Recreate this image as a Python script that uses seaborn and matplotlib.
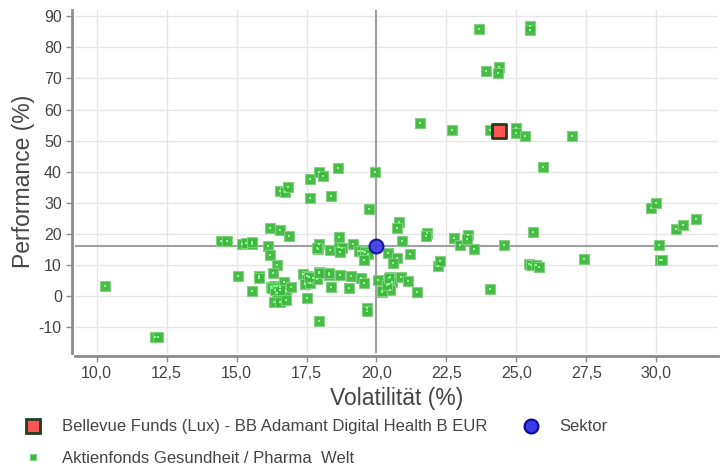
import numpy as np
import pandas as pd
import matplotlib
matplotlib.use("Agg")
import matplotlib.pyplot as plt
import seaborn as sns
from matplotlib.ticker import FuncFormatter
from matplotlib.lines import Line2D

# Peer group: volatility (%) and performance (%)
peer_vol = [10.3, 12.1, 12.2, 14.45, 14.65,
            15.2, 15.35, 15.55, 15.55, 15.05, 15.55, 15.8, 15.82,
            16.2, 16.57, 16.87, 16.12, 16.18, 16.45, 16.32, 16.55, 16.72, 16.84,
            16.24, 16.33, 16.45, 16.55, 16.71, 16.75, 16.95, 16.45, 16.35, 16.55, 16.75, 16.28, 16.39, 16.57,
            17.38, 17.52, 17.45, 17.64, 17.74, 17.88, 17.96, 17.58, 17.94, 17.51, 17.94, 17.62, 17.94, 18.1,
            17.64, 17.94, 17.9, 17.88,
            18.32, 18.36, 18.71, 18.33, 18.65, 18.65, 18.77, 18.71, 18.62, 18.39, 18.3,
            19.1, 19.02, 19.43, 19.57, 19.15, 19.37, 19.49, 19.6, 19.69, 19.57, 19.67, 19.67, 19.73, 19.95,
            20.07, 20.48, 20.57, 20.43, 20.48, 20.19, 20.18, 20.38, 20.44, 20.89, 20.42, 20.74, 20.6, 20.9,
            20.8, 20.74,
            21.12, 21.46, 21.18, 21.79, 21.77, 21.54,
            22.19, 22.26, 22.76, 22.98, 22.7,
            23.27, 23.24, 23.48, 23.65, 23.93,
            24.04, 24.57, 24.37, 24.35, 24.07,
            25.44, 25.52, 25.71, 25.8, 25.6, 25.47, 25.47, 25.0, 25.0, 25.3, 25.95,
            26.99, 27.43,
            29.8, 30.0, 30.08, 30.14, 30.2, 30.7, 30.95, 31.4]
peer_perf = [3.4, -13.3, -13.1, 17.8, 17.7,
             16.9, 17.1, 16.7, 17.4, 6.6, 1.7, 6.4, 5.9,
             21.9, 21.4, 19.2, 16.1, 13.1, 10.0, 7.5, 33.8, 33.6, 35.0,
             2.8, 3.4, 3.2, 2.8, 4.5, 1.7, 2.8, 0.9, -1.8, -2.0, -1.4, 2.5, 1.9, 1.9,
             7.1, 6.4, 3.9, 4.1, 5.7, 5.4, 7.7, 6.0, 7.3, -0.5, -8.0, 37.5, 40.0, 38.7,
             31.4, 16.9, 15.0, 15.6,
             6.9, 3.0, 6.75, 14.8, 18.9, 15.9, 15.5, 14.1, 41.1, 32.2, 7.5,
             6.4, 2.5, 5.9, 4.1, 16.9, 14.6, 14.6, 14.1, 13.5, 11.6, -3.8, -4.7, 28.1, 39.8,
             5.1, 6.0, 4.6, 3.8, 2.1, 1.3, 1.7, 3.5, 5.7, 6.2, 14.0, 12.4, 10.8, 17.8,
             23.7, 21.9,
             4.9, 1.3, 13.5, 20.3, 19.4, 55.8,
             9.8, 11.4, 18.7, 16.4, 53.4,
             19.6, 18.3, 15.1, 85.8, 72.3,
             2.3, 16.3, 73.7, 71.6, 53.4,
             10.2, 10.0, 10.0, 9.4, 20.5, 86.9, 85.5, 53.9, 52.5, 51.4, 41.6,
             51.4, 11.8,
             28.2, 30.0, 16.4, 11.6, 11.5, 21.5, 22.8, 24.8]

fund_name = "Bellevue Funds (Lux) - BB Adamant Digital Health B EUR"
fund_vol = [24.37]
fund_perf = [53.2]

sector_vol = [20.0]
sector_perf = [16.1]

peer_name = "Aktienfonds Gesundheit / Pharma  Welt"

x_ticks = [10.0, 12.5, 15.0, 17.5, 20.0, 22.5, 25.0, 27.5, 30.0]
y_ticks = [-10, 0, 10, 20, 30, 40, 50, 60, 70, 80, 90]

sns.set_theme(style="whitegrid")
plt.rcParams['font.family'] = ['Liberation Sans', 'DejaVu Sans']
plt.rcParams['axes.unicode_minus'] = False

peers = pd.DataFrame({'vol': peer_vol, 'perf': peer_perf})

fig = plt.figure(figsize=(7.2, 4.68), dpi=100)
ax = fig.add_axes([75 / 720, 1 - 353 / 468, 643 / 720, 343 / 468])

ax.axvline(sector_vol[0], color='#a0a0a0', lw=1.5, zorder=1.5)
ax.axhline(sector_perf[0], color='#a0a0a0', lw=1.5, zorder=1.5)

sns.scatterplot(data=peers, x='vol', y='perf', ax=ax, marker='s', s=50,
                color='#3fb83f', edgecolor='#7fd17f', linewidth=0.8, alpha=0.95, zorder=3)
sns.scatterplot(data=peers, x='vol', y='perf', ax=ax, marker='s', s=3,
                color='#8dff8d', linewidth=0, zorder=3.5)
sns.scatterplot(x=sector_vol, y=sector_perf, ax=ax, marker='o', s=100,
                color='#3a3ae6', edgecolor='#0a0a99', linewidth=1.5, alpha=0.9, zorder=4)
sns.scatterplot(x=fund_vol, y=fund_perf, ax=ax, marker='s', s=110,
                color='#ff5555', edgecolor='#1f3d1f', linewidth=2, zorder=5)

ax.set_xlim(9.23, 32.2)
ax.set_ylim(-18.3, 92)
ax.set_xticks(x_ticks)
ax.set_yticks(y_ticks)
ax.xaxis.set_major_formatter(FuncFormatter(lambda v, p: f"{v:.1f}".replace('.', ',')))
ax.yaxis.set_major_formatter(FuncFormatter(lambda v, p: f"{v:.0f}"))

ax.grid(True, color='#e6e6e6', lw=1)
sns.despine(ax=ax, offset=2.5)
for side in ['left', 'bottom']:
    ax.spines[side].set_color('#8c8c8c')
    ax.spines[side].set_linewidth(2)
ax.tick_params(axis='both', which='major', length=4, width=1, color='#8c8c8c',
               labelsize=11.5, labelcolor='#444444', pad=3, bottom=True, left=True)

ax.set_xlabel('Volatilität (%)', fontsize=16.5, color='#444444', labelpad=4)
ax.set_ylabel('Performance (%)', fontsize=16.5, color='#444444', labelpad=3)

handles = [
    Line2D([], [], ls='', marker='s', ms=10, mfc='#ff5555', mec='#1f3d1f', mew=2),
    Line2D([], [], ls='', marker='s', ms=5, mfc='#3fb83f', mec='#7fd17f', mew=0.8),
    Line2D([], [], ls='', marker='o', ms=10, mfc='#3a3ae6', mec='#0a0a99', mew=1.5),
]
labels = [fund_name, peer_name, 'Sektor']
fig.legend(handles, labels, loc='upper left', bbox_to_anchor=(0.013, 0.118), ncol=2,
           frameon=False, fontsize=12, labelcolor='#444444', handletextpad=0.75,
           columnspacing=1.6, labelspacing=1.0, borderaxespad=0)

fig.savefig('out.png', dpi=100)
